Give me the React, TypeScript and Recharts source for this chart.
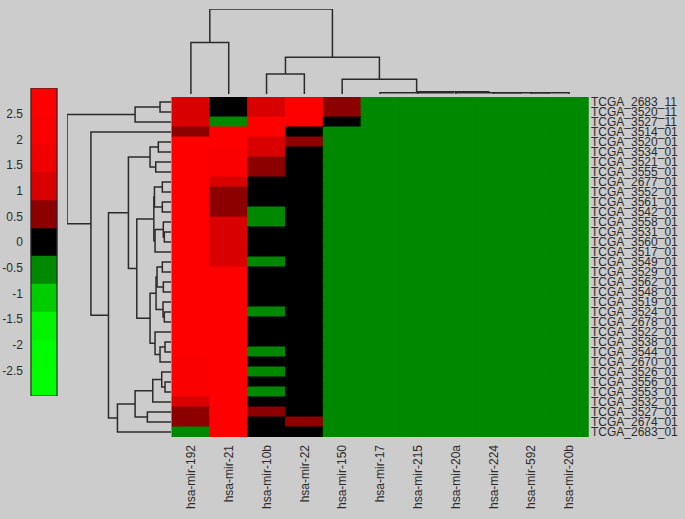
import React from "react";
import { BarChart, Bar, Cell, XAxis, YAxis, ComposedChart, Line } from "recharts";

const W = 685;
const H = 519;
const BG = "#cccccc";
const INK = "#2b2b2b";
const FONT = "'Liberation Sans', Arial, sans-serif";

// column (miRNA) order as in the clustered heatmap
const genes = [
  "hsa-mir-192", "hsa-mir-21", "hsa-mir-10b", "hsa-mir-22", "hsa-mir-150",
  "hsa-mir-17", "hsa-mir-215", "hsa-mir-20a", "hsa-mir-224", "hsa-mir-592", "hsa-mir-20b",
];

// row (sample) order, top to bottom
const samples = [
  "TCGA_2683_11", "TCGA_3520_11", "TCGA_3527_11", "TCGA_3514_01", "TCGA_3520_01",
  "TCGA_3534_01", "TCGA_3521_01", "TCGA_3555_01", "TCGA_2677_01", "TCGA_3552_01",
  "TCGA_3561_01", "TCGA_3542_01", "TCGA_3558_01", "TCGA_3531_01", "TCGA_3560_01",
  "TCGA_3517_01", "TCGA_3549_01", "TCGA_3529_01", "TCGA_3562_01", "TCGA_3548_01",
  "TCGA_3519_01", "TCGA_3524_01", "TCGA_2678_01", "TCGA_3522_01", "TCGA_3538_01",
  "TCGA_3544_01", "TCGA_2670_01", "TCGA_3526_01", "TCGA_3556_01", "TCGA_3553_01",
  "TCGA_3532_01", "TCGA_3527_01", "TCGA_2674_01", "TCGA_2683_01",
];

// standardized expression per miRNA, one value per sample row (top first)
const mir192 = [
  1.1, 1.1, 1.1, 0.55, 2.7, 2.7, 2.7, 2.7, 2.7, 2.7, 2.7, 2.7, 2.7, 2.7, 2.7, 2.7, 2.7,
  2.7, 2.7, 2.7, 2.7, 2.7, 2.7, 2.7, 2.7, 2.7, 2.2, 2.2, 2.2, 2.2, 1.1, 0.55, 0.55, -0.5,
];
const mir21 = [
  0, 0, -0.5, 2.7, 2.7, 2.2, 2.2, 2.2, 1.1, 0.55, 0.55, 0.55, 1.1, 1.1, 1.1, 1.1, 1.1,
  2.7, 2.7, 2.7, 2.7, 2.7, 2.7, 2.7, 2.7, 2.7, 2.7, 2.7, 2.7, 2.7, 2.7, 2.7, 2.7, 2.7,
];
const mir10b = [
  1.1, 1.1, 2.7, 2.7, 1.1, 1.1, 0.55, 0.55, 0, 0, 0, -0.5, -0.5, 0, 0, 0, -0.5,
  0, 0, 0, 0, -0.5, 0, 0, 0, -0.5, 0, -0.5, 0, -0.5, 0, 0.55, 0, 0,
];
const mir22 = [
  2.7, 2.7, 2.7, 0, 0.55, 0, 0, 0, 0, 0, 0, 0, 0, 0, 0, 0, 0,
  0, 0, 0, 0, 0, 0, 0, 0, 0, 0, 0, 0, 0, 0, 0, 0.55, 0,
];
const mir150 = [
  0.55, 0.55, 0, -0.5, -0.5, -0.5, -0.5, -0.5, -0.5, -0.5, -0.5, -0.5, -0.5, -0.5, -0.5, -0.5, -0.5,
  -0.5, -0.5, -0.5, -0.5, -0.5, -0.5, -0.5, -0.5, -0.5, -0.5, -0.5, -0.5, -0.5, -0.5, -0.5, -0.5, -0.5,
];
// the remaining six miRNAs read as the same flat dark green in every row
const flatLow = [
  -0.5, -0.5, -0.5, -0.5, -0.5, -0.5, -0.5, -0.5, -0.5, -0.5, -0.5, -0.5, -0.5, -0.5, -0.5, -0.5, -0.5,
  -0.5, -0.5, -0.5, -0.5, -0.5, -0.5, -0.5, -0.5, -0.5, -0.5, -0.5, -0.5, -0.5, -0.5, -0.5, -0.5, -0.5,
];
const columns = [mir192, mir21, mir10b, mir22, mir150, flatLow, flatLow, flatLow, flatLow, flatLow, flatLow];

// colour bar: 11 equal bands from -3 to 3, green -> black -> red
const cbEdges = [-3, -2.4545, -1.9091, -1.3636, -0.8182, -0.2727, 0.2727, 0.8182, 1.3636, 1.9091, 2.4545, 3];
const cbColors = [
  "#00ff00", "#00fc00", "#00f400", "#00cc00", "#008800", "#000000",
  "#8c0000", "#d80000", "#f00000", "#fa0000", "#ff0000",
];
const cbTicks = [2.5, 2, 1.5, 1, 0.5, 0, -0.5, -1, -1.5, -2, -2.5];

// dendrograms, linkage style: [childA, childB, height]; ids >= n are earlier merges
const topMerges = [
  [9, 10, 0.12], [8, 11, 0.12], [7, 12, 0.12], [6, 13, 0.22], [5, 14, 0.13],
  [2, 3, 2.0], [4, 15, 1.47], [16, 17, 3.67], [0, 1, 5.13], [19, 18, 8.47],
];
const leftMerges = [
  [0, 1, 1.1], [34, 2, 3.6], [4, 5, 1.27], [6, 7, 1.53], [36, 37, 2.1],
  [8, 9, 0.87], [10, 11, 0.87], [39, 40, 1.66], [13, 14, 0.67], [12, 42, 0.77],
  [43, 15, 1.6], [41, 44, 1.72], [16, 17, 0.87], [18, 19, 0.77], [46, 47, 1.4],
  [21, 22, 0.67], [20, 49, 0.8], [48, 50, 1.5], [24, 25, 0.6], [52, 26, 1.1],
  [23, 53, 1.6], [51, 54, 2.1], [45, 55, 3.43], [38, 56, 4.27], [28, 29, 0.6],
  [27, 58, 0.93], [59, 30, 1.83], [31, 32, 2.37], [60, 61, 3.6], [62, 33, 5.37],
  [57, 63, 6.27], [3, 64, 8.03], [35, 65, 10.43],
];

function colorOf(v: number) {
  for (let k = 0; k < cbColors.length; k++) {
    if (v < cbEdges[k + 1]) return cbColors[k];
  }
  return cbColors[cbColors.length - 1];
}

// U-shaped link per merge, in leaf-index / height units
function buildLinks(merges: number[][], n: number) {
  const pos: number[] = [];
  const hgt: number[] = [];
  for (let i = 0; i < n; i++) {
    pos[i] = i;
    hgt[i] = 0;
  }
  return merges.map(([a, b, h], k) => {
    pos[n + k] = (pos[a] + pos[b]) / 2;
    hgt[n + k] = h;
    return [
      { p: pos[a], h: hgt[a] },
      { p: pos[a], h },
      { p: pos[b], h },
      { p: pos[b], h: hgt[b] },
    ];
  });
}

const topLinks = buildLinks(topMerges, genes.length);
const leftLinks = buildLinks(leftMerges, samples.length);
const topMax = Math.max(...topMerges.map((m) => m[2]));
const leftMax = Math.max(...leftMerges.map((m) => m[2]));

const heatRows = genes.map((g) => {
  const row: Record<string, any> = { gene: g };
  samples.forEach((_, ri) => (row[`r${ri}`] = 1));
  return row;
});
const rowTicks = samples.map((_, i) => i + 0.5);

// stacked colour-bar pieces (black band split at zero for the sign offset)
const cbPieces: { key: string; value: number; color: string }[] = [];
cbColors.forEach((c, k) => {
  const lo = cbEdges[k];
  const hi = cbEdges[k + 1];
  if (lo < 0 && hi > 0) {
    cbPieces.push({ key: `p${k}`, value: hi, color: c });
  } else if (lo >= 0) {
    cbPieces.push({ key: `p${k}`, value: hi - lo, color: c });
  }
});
for (let k = cbColors.length - 1; k >= 0; k--) {
  const lo = cbEdges[k];
  const hi = cbEdges[k + 1];
  if (lo < 0 && hi > 0) cbPieces.push({ key: `n${k}`, value: lo, color: cbColors[k] });
  else if (hi <= 0) cbPieces.push({ key: `n${k}`, value: lo - hi, color: cbColors[k] });
}
const cbData = [Object.fromEntries([["k", "cb"], ...cbPieces.map((p) => [p.key, p.value])])];
// one range bar spanning the whole scale, used as the outline
const cbFrame = [{ k: "cb", frame: [cbEdges[0], cbEdges[cbEdges.length - 1]] }];

const GeneTick = (props: any) => {
  const { x, y, payload } = props;
  return (
    <g transform={`translate(${x},${y})`}>
      <text transform="rotate(-90)" textAnchor="end" dy="0.35em" fontSize={12} fill={INK} fontFamily={FONT}>
        {payload.value}
      </text>
    </g>
  );
};

const layer: React.CSSProperties = { position: "absolute", left: 0, top: 0 };

export default function App() {
  return (
    <div style={{ position: "absolute", left: 0, top: 0, width: W, height: H, background: BG, fontFamily: FONT, overflow: "hidden" }}>
      {/* heatmap */}
      <div style={layer}>
        <BarChart width={W} height={H} data={heatRows} margin={{ top: 97, left: 172, right: 0, bottom: 0 }} barCategoryGap={0} barGap={0}>
          <XAxis dataKey="gene" type="category" height={82} interval={0} tickLine={false} axisLine={false} tick={<GeneTick />} />
          <YAxis
            type="number"
            orientation="right"
            domain={[0, samples.length]}
            reversed
            allowDataOverflow
            ticks={rowTicks}
            interval={0}
            width={97}
            tickLine={false}
            axisLine={false}
            tickSize={0}
            tickMargin={3}
            tickFormatter={(v: number) => samples[Math.floor(v)]}
            tick={{ fontSize: 12, fill: INK, fontFamily: FONT }}
          />
          {samples.map((s, ri) => (
            <Bar key={s + ri} dataKey={`r${ri}`} stackId="m" isAnimationActive={false}>
              {genes.map((g, gi) => {
                const c = colorOf(columns[gi][ri]);
                return <Cell key={g} fill={c} stroke={c} strokeWidth={1} />;
              })}
            </Bar>
          ))}
        </BarChart>
      </div>

      {/* column dendrogram */}
      <div style={layer}>
        <ComposedChart width={W} height={100} margin={{ top: 9, bottom: 6, left: 172, right: 97 }}>
          <XAxis type="number" dataKey="p" domain={[-0.5, genes.length - 0.5]} allowDataOverflow hide />
          <YAxis type="number" domain={[0, topMax]} allowDataOverflow hide />
          {topLinks.map((d, i) => (
            <Line key={i} data={d} dataKey="h" type="linear" stroke={INK} strokeWidth={1.5} dot={false} isAnimationActive={false} />
          ))}
        </ComposedChart>
      </div>

      {/* row dendrogram */}
      <div style={layer}>
        <ComposedChart width={W} height={H} margin={{ top: 97, bottom: 82, left: 67, right: 514 }}>
          <XAxis type="number" dataKey="h" domain={[0, leftMax]} reversed allowDataOverflow hide />
          <YAxis type="number" domain={[-0.5, samples.length - 0.5]} reversed allowDataOverflow hide />
          {leftLinks.map((d, i) => (
            <Line key={i} data={d} dataKey="p" type="linear" stroke={INK} strokeWidth={1.5} dot={false} isAnimationActive={false} />
          ))}
        </ComposedChart>
      </div>

      {/* colour bar bands */}
      <div style={layer}>
        <BarChart width={70} height={420} data={cbData} stackOffset="sign" margin={{ top: 88, left: 0, right: 13, bottom: 24 }} barCategoryGap={0}>
          <XAxis dataKey="k" hide />
          <YAxis
            type="number"
            domain={[-3, 3]}
            allowDataOverflow
            ticks={cbTicks}
            interval={0}
            width={31}
            tickLine={false}
            axisLine={false}
            tick={{ fontSize: 12, fill: INK, fontFamily: FONT }}
          />
          {cbPieces.map((p) => (
            <Bar key={p.key} dataKey={p.key} stackId="cb" fill={p.color} stroke={p.color} strokeWidth={0.5} isAnimationActive={false} />
          ))}
        </BarChart>
      </div>

      {/* colour bar outline with short inward ticks, drawn above the bands */}
      <div style={layer}>
        <BarChart width={70} height={420} data={cbFrame} margin={{ top: 88, left: 31, right: 13, bottom: 24 }} barCategoryGap={0}>
          <XAxis dataKey="k" hide />
          <YAxis
            yAxisId="r"
            orientation="right"
            mirror
            type="number"
            domain={[-3, 3]}
            allowDataOverflow
            ticks={cbTicks}
            interval={0}
            width={13}
            tick={false}
            tickSize={5}
            tickLine={{ stroke: INK, strokeWidth: 1 }}
            axisLine={false}
          />
          <Bar yAxisId="r" dataKey="frame" fill="none" stroke={INK} strokeWidth={1.2} isAnimationActive={false} />
        </BarChart>
      </div>
    </div>
  );
}
